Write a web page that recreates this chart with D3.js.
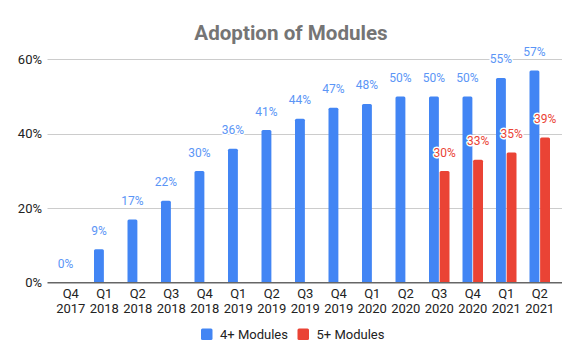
<!DOCTYPE html>
<html><head><meta charset="utf-8">
<script src="https://cdn.jsdelivr.net/npm/d3@7"></script>
<style>body{margin:0;background:#fff}svg{display:block;font-family:Roboto,Arial,sans-serif}</style>
</head><body><svg id="c" width="580" height="359"></svg>
<script>
const categories = ["Q4 2017","Q1 2018","Q2 2018","Q3 2018","Q4 2018","Q1 2019","Q2 2019","Q3 2019","Q4 2019","Q1 2020","Q2 2020","Q3 2020","Q4 2020","Q1 2021","Q2 2021"];
const seriesNames = ["4+ Modules","5+ Modules"];
const fourPlus = [0,9,17,22,30,36,41,44,47,48,50,50,50,55,57];
const fivePlus = [null,null,null,null,null,null,null,null,null,null,null,30,33,35,39];
const yTicks = [0,20,40,60];
const colors = ["#4285F4","#EA4335"];
const labelColors = ["#5B95F6","#EA4335"];

const svg = d3.select("#c");
const plotL = 47.5, plotR = 562;
const x = d3.scaleBand().domain(categories).range([54,556.5]).paddingInner(0.388).paddingOuter(0.194);
const x1 = d3.scaleBand().domain(seriesNames).range([0,x.bandwidth()]).paddingInner(0.07);
const y = d3.scaleLinear().domain([0,60]).range([282.7,59.3]);

// title
svg.append("text").attr("x",291).attr("y",40).attr("text-anchor","middle")
  .attr("font-size",20.6).attr("font-weight","bold").attr("fill","#757575").text("Adoption of Modules");

// gridlines
svg.append("g").selectAll("line").data(yTicks.filter(d=>d>0)).join("line")
  .attr("x1",plotL).attr("x2",plotR).attr("y1",d=>Math.round(y(d))+0.5).attr("y2",d=>Math.round(y(d))+0.5)
  .attr("stroke","#cccccc").attr("stroke-width",1);

// y axis labels
const yAxis = d3.axisLeft(y).tickValues(yTicks).tickFormat(d=>d+"%").tickSize(0).tickPadding(0);
const ya = svg.append("g").attr("transform","translate(42,0)").call(yAxis);
ya.select(".domain").remove();
ya.selectAll("text").attr("font-size",13).attr("fill","#222").attr("font-family","Roboto,Arial,sans-serif");

// bars
const data = [];
categories.forEach((c,i)=>{
  [fourPlus[i],fivePlus[i]].forEach((v,s)=>{ if(v!==null) data.push({c,s,v}); });
});
svg.append("g").selectAll("rect").data(data).join("rect")
  .attr("x",d=>x(d.c)+x1(seriesNames[d.s])).attr("width",x1.bandwidth())
  .attr("y",d=>y(d.v)).attr("height",d=>y(0)-y(d.v))
  .attr("rx",1.5).attr("fill",d=>colors[d.s]);

// baseline
svg.append("line").attr("x1",plotL).attr("x2",plotR).attr("y1",y(0)).attr("y2",y(0))
  .attr("stroke","#666").attr("stroke-width",1.5);

// value labels
svg.append("g").selectAll("text").data(data).join("text")
  .attr("x",d=>x(d.c)+x1(seriesNames[d.s])+x1.bandwidth()/2)
  .attr("y",d=>y(d.v)-14.5).attr("text-anchor","middle")
  .attr("font-size",12).attr("fill",d=>labelColors[d.s])
  .attr("stroke","#fff").attr("stroke-width",3).attr("paint-order","stroke").attr("stroke-linejoin","round")
  .text(d=>d.v+"%");

// x axis labels
const xa = d3.axisBottom(x).tickSize(0).tickPadding(0);
const xg = svg.append("g").attr("transform","translate(0,283)").call(xa);
xg.select(".domain").remove();
xg.selectAll(".tick text").each(function(d){
  const parts = d.split(" ");
  const t = d3.select(this).text(null).attr("y",0).attr("dy",null)
    .attr("font-size",13).attr("fill","#222").attr("font-family","Roboto,Arial,sans-serif");
  t.append("tspan").attr("x",0).attr("y",15).text(parts[0]);
  t.append("tspan").attr("x",0).attr("y",30).text(parts[1]);
});

// legend
const legX = [201, 297.5];
const lg = svg.append("g").selectAll("g").data(seriesNames).join("g")
  .attr("transform",(d,i)=>`translate(${legX[i]},328.5)`);
lg.append("rect").attr("width",11.5).attr("height",11.5).attr("rx",1.5).attr("fill",(d,i)=>colors[i]);
lg.append("text").attr("x",19).attr("y",10.5).attr("font-size",13).attr("fill","#222").text(d=>d);
</script></body></html>
